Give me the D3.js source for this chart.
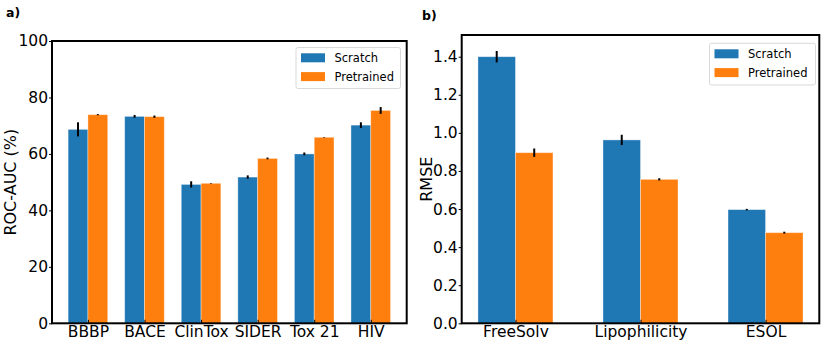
<!DOCTYPE html>
<html>
<head>
<meta charset="utf-8">
<script src="https://cdn.jsdelivr.net/npm/d3@7"></script>
<style>
  body { margin: 0; background: #fff; }
  svg { display: block; font-family: "DejaVu Sans", sans-serif; }
</style>
</head>
<body>
<svg id="chart" width="830" height="354"></svg>
<script>
// ---- data ----
const categoriesA = ["BBBP", "BACE", "ClinTox", "SIDER", "Tox 21", "HIV"];
const scratchA = [68.7, 73.3, 49.2, 51.8, 60.0, 70.2];
const scratchErrA = [2.5, 0.5, 1.1, 0.6, 0.5, 1.0];
const pretrainedA = [73.9, 73.2, 49.6, 58.4, 65.9, 75.4];
const pretrainedErrA = [0.2, 0.4, 0.1, 0.3, 0.1, 1.2];
const yTicksA = [0, 20, 40, 60, 80, 100];

const categoriesB = ["FreeSolv", "Lipophilicity", "ESOL"];
const scratchB = [1.40, 0.963, 0.597];
const scratchErrB = [0.03, 0.027, 0.004];
const pretrainedB = [0.896, 0.756, 0.476];
const pretrainedErrB = [0.022, 0.006, 0.005];
const yTicksB = [0, 0.2, 0.4, 0.6, 0.8, 1.0, 1.2, 1.4];

const seriesNames = ["Scratch", "Pretrained"];
const colors = ["#1f77b4", "#ff7f0e"];

const svg = d3.select("#chart");

function drawPanel(opts) {
  const x = d3.scaleLinear().domain(opts.xDomain).range([opts.left, opts.right]);
  const y = d3.scaleLinear().domain(opts.yDomain).range([opts.bottom, opts.top]);
  const g = svg.append("g");
  const bw = opts.barWidth;

  const series = [
    { vals: opts.scratch, errs: opts.scratchErr, offset: -bw, color: colors[0] },
    { vals: opts.pretrained, errs: opts.pretrainedErr, offset: 0, color: colors[1] }
  ];

  series.forEach(s => {
    g.selectAll(null)
      .data(s.vals)
      .join("rect")
      .attr("x", (d, i) => x(i + s.offset))
      .attr("width", x(bw) - x(0))
      .attr("y", d => y(d))
      .attr("height", d => y(0) - y(d))
      .attr("fill", s.color)
      .attr("stroke", "rgba(255,255,255,0.45)")
      .attr("stroke-width", 0.8);
  });

  // error bars (no caps)
  series.forEach(s => {
    g.selectAll(null)
      .data(s.vals)
      .join("line")
      .attr("x1", (d, i) => x(i + s.offset + bw / 2))
      .attr("x2", (d, i) => x(i + s.offset + bw / 2))
      .attr("y1", (d, i) => y(d - s.errs[i]))
      .attr("y2", (d, i) => y(d + s.errs[i]))
      .attr("stroke", "#000")
      .attr("stroke-width", 2);
  });

  // y axis, ticks outward
  const yAxis = g.append("g")
    .attr("transform", `translate(${opts.left},0)`)
    .call(d3.axisLeft(y).tickValues(opts.yTicks).tickFormat(opts.yFormat)
      .tickSizeInner(3).tickSizeOuter(0).tickPadding(1));
  yAxis.select(".domain").remove();
  yAxis.selectAll("line").attr("stroke", "#000").attr("stroke-width", 1);
  yAxis.selectAll("text").attr("font-size", 15.5).attr("fill", "#000")
    .attr("font-family", "DejaVu Sans");

  // x axis, ticks inward
  const xAxis = g.append("g")
    .attr("transform", `translate(0,${opts.bottom})`)
    .call(d3.axisBottom(x).tickValues(d3.range(opts.categories.length))
      .tickFormat(i => opts.categories[i])
      .tickSizeInner(-3.5).tickSizeOuter(0).tickPadding(3));
  xAxis.select(".domain").remove();
  xAxis.selectAll("line").attr("stroke", "#000").attr("stroke-width", 1);
  xAxis.selectAll("text").attr("font-size", 15.5).attr("fill", "#000")
    .attr("font-family", "DejaVu Sans");

  // frame
  g.append("rect")
    .attr("x", opts.left).attr("y", opts.top)
    .attr("width", opts.right - opts.left).attr("height", opts.bottom - opts.top)
    .attr("fill", "none").attr("stroke", "#000").attr("stroke-width", 2);

  // y label
  g.append("text")
    .attr("transform", `translate(${opts.yLabelX},${(opts.top + opts.bottom) / 2}) rotate(-90)`)
    .attr("text-anchor", "middle")
    .attr("font-size", 16)
    .text(opts.yLabel);

  // panel letter
  g.append("text")
    .attr("x", opts.tagX).attr("y", opts.tagY)
    .attr("font-size", 12.5).attr("font-weight", "bold")
    .text(opts.tag);

  // legend
  const L = opts.legend;
  const lg = g.append("g");
  lg.append("rect")
    .attr("x", L.x).attr("y", L.y).attr("width", L.w).attr("height", L.h)
    .attr("rx", 2).attr("fill", "rgba(255,255,255,0.8)")
    .attr("stroke", "#d9d9d9").attr("stroke-width", 1);
  seriesNames.forEach((name, k) => {
    const cy = L.y + L.firstRow + k * L.rowGap;
    lg.append("rect")
      .attr("x", L.x + 5).attr("y", cy - 4.5)
      .attr("width", 24).attr("height", 9)
      .attr("fill", colors[k]);
    lg.append("text")
      .attr("x", L.x + 38.5).attr("y", cy + 4.2)
      .attr("font-size", 11.5)
      .text(name);
  });
}

drawPanel({
  categories: categoriesA,
  scratch: scratchA, scratchErr: scratchErrA,
  pretrained: pretrainedA, pretrainedErr: pretrainedErrA,
  yTicks: yTicksA, yFormat: d3.format("d"),
  xDomain: [-0.635, 5.635], yDomain: [0, 100],
  left: 52, right: 406.7, top: 41, bottom: 323.3,
  barWidth: 0.35,
  yLabel: "ROC-AUC (%)", yLabelX: 16,
  tag: "a)", tagX: 6, tagY: 17,
  legend: { x: 296, y: 47.5, w: 104.5, h: 41, firstRow: 10.3, rowGap: 18.8 }
});

drawPanel({
  categories: categoriesB,
  scratch: scratchB, scratchErr: scratchErrB,
  pretrained: pretrainedB, pretrainedErr: pretrainedErrB,
  yTicks: yTicksB, yFormat: d3.format(".1f"),
  xDomain: [-0.43, 2.43], yDomain: [0, 1.514],
  left: 461.7, right: 819.3, top: 35, bottom: 323.3,
  barWidth: 0.3,
  yLabel: "RMSE", yLabelX: 432,
  tag: "b)", tagX: 422, tagY: 20,
  legend: { x: 709.5, y: 43.3, w: 106, h: 41.7, firstRow: 10.5, rowGap: 18.8 }
});
</script>
</body>
</html>
